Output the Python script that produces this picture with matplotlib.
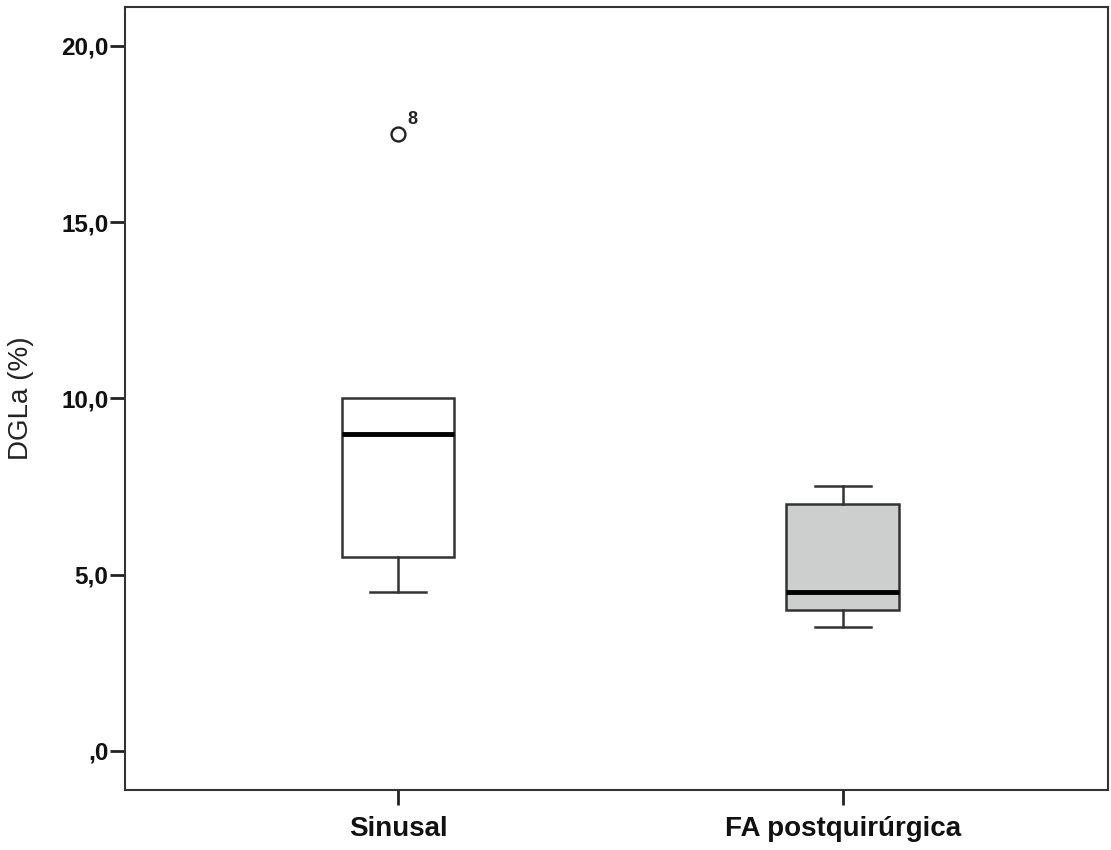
import matplotlib.pyplot as plt
from matplotlib.ticker import FuncFormatter

plt.rcParams['font.family'] = ['Liberation Sans', 'DejaVu Sans']

groups = ["Sinusal", "FA postquirúrgica"]
whislo = [4.5, 3.5]
q1 = [5.5, 4.0]
med = [9.0, 4.5]
q3 = [10.0, 7.0]
whishi = [10.0, 7.5]
fliers = [[17.5], []]
flier_ids = [["8"], []]
box_colors = ["white", "#cdcfce"]


def fmt(v, pos):
    s = "{:.1f}".format(v).replace(".", ",")
    if s.startswith("0,"):
        s = s[1:]
    return s


stats = []
for i, g in enumerate(groups):
    stats.append(dict(label=g, whislo=whislo[i], q1=q1[i], med=med[i],
                      q3=q3[i], whishi=whishi[i], fliers=fliers[i]))

fig = plt.figure(figsize=(11.11, 8.5), dpi=100)
ax = fig.add_axes([0.1125, 0.0706, 0.8845, 0.9212])

positions = [1, 2]
bp = ax.bxp(stats, positions=positions, widths=0.254, patch_artist=True,
            whiskerprops=dict(color="#333333", linewidth=1.8),
            capprops=dict(color="#333333", linewidth=1.8),
            boxprops=dict(edgecolor="#333333", linewidth=1.8),
            medianprops=dict(color="black", linewidth=3.5),
            flierprops=dict(marker="o", markersize=10, markerfacecolor="white",
                            markeredgecolor="#222222", markeredgewidth=1.7))
for patch, c in zip(bp["boxes"], box_colors):
    patch.set_facecolor(c)
# caps half the box width; hide a cap that sits on the box edge
for k, cap in enumerate(bp["caps"]):
    x0, x1 = cap.get_xdata()
    xm = (x0 + x1) / 2
    cap.set_xdata([xm - 0.063, xm + 0.063])
    i = k // 2
    if k % 2 == 1 and whishi[i] == q3[i]:
        cap.set_visible(False)
    if k % 2 == 0 and whislo[i] == q1[i]:
        cap.set_visible(False)

for i, ids in enumerate(flier_ids):
    for v, lab in zip(fliers[i], ids):
        ax.annotate(lab, (positions[i], v), xytext=(7, 7), textcoords="offset points",
                    fontsize=13, fontweight="bold", color="#222222")

ax.set_xlim(0.386, 2.596)
ax.set_ylim(-1.11, 21.1)
ax.set_yticks([0, 5, 10, 15, 20])
ax.yaxis.set_major_formatter(FuncFormatter(fmt))
ax.set_xticks(positions)
ax.set_xticklabels(groups)

ax.tick_params(axis="both", direction="out", length=11, width=2, color="#222222", pad=1)
ax.tick_params(axis="y", labelsize=17.5)
ax.tick_params(axis="x", labelsize=20, pad=8)
for lab in ax.get_xticklabels() + ax.get_yticklabels():
    lab.set_fontweight("bold")
    lab.set_color("#111111")

for s in ax.spines.values():
    s.set_linewidth(1.5)
    s.set_color("#333333")

ax.set_ylabel("DGLa (%)", fontsize=20, color="#222222")
ax.yaxis.set_label_coords(-0.093, 0.5)

fig.savefig("out.png", dpi=100)
